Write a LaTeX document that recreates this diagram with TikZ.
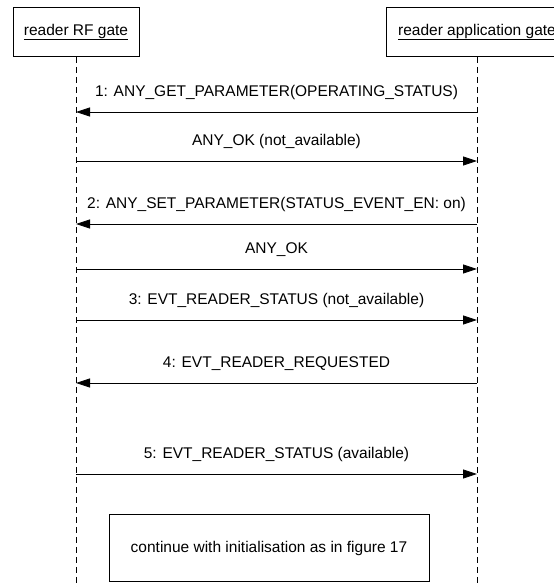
\documentclass[tikz,border=0pt]{standalone}
\usepackage{fontspec}
\setmainfont{Liberation Sans}
\usetikzlibrary{arrows.meta,positioning}

\begin{document}
\begin{tikzpicture}[
      x=1pt,y=-1pt,
      mybox/.style={
         rectangle,
         draw=black,
         line width=0.7pt,
         minimum height=49pt,
         inner sep=0pt,
         font=\fontsize{15.5}{18}\selectfont},
      lifeline/.style={dash pattern=on 6pt off 4pt,line width=0.7pt},
      myarrow/.style={-{Triangle[length=14pt,width=9pt]},line width=0.8pt},
      msg/.style={anchor=base,yshift=16pt,inner sep=0pt,
         font=\fontsize{15.5}{18}\selectfont}
      ]
      \clip (0,0) rectangle (554,587);
      \node[mybox,minimum width=126pt] (rf) at (76,32) {\underline{reader RF gate}};
      \node[mybox,minimum width=182pt] (app) at (477,32) {\underline{reader application gate}};
      \coordinate (rfend) at (76,587);
      \coordinate (append) at (477,587);
      \draw[lifeline] (rf.south) -- (rfend);
      \draw[lifeline] (app.south) -- (append);

    % message levels on both lifelines
    \foreach \n/\y in {1/112,2/161,3/224,4/269,5/320,6/383,7/474} {
      \coordinate (rf\n) at (76,\y);
      \coordinate (app\n) at (477,\y);
    }

    \foreach \i/\j/\txt in {% start/end/text
      app1/rf1/1: ANY\_GET\_PARAMETER(OPERATING\_STATUS),
      rf2/app2/ANY\_OK (not\_available),
      app3/rf3/2: ANY\_SET\_PARAMETER(STATUS\_EVENT\_EN: on),
      rf4/app4/ANY\_OK,
      rf5/app5/3: EVT\_READER\_STATUS (not\_available),
      app6/rf6/4: EVT\_READER\_REQUESTED,
      rf7/app7/5: EVT\_READER\_STATUS (available)}
       \draw [myarrow] (\i) -- node[msg] {\txt} (\j);

      \node[mybox,minimum width=320pt,minimum height=67pt] (cont) at (269,548)
         {continue with initialisation as in figure 17};

    \end{tikzpicture}
\end{document}
